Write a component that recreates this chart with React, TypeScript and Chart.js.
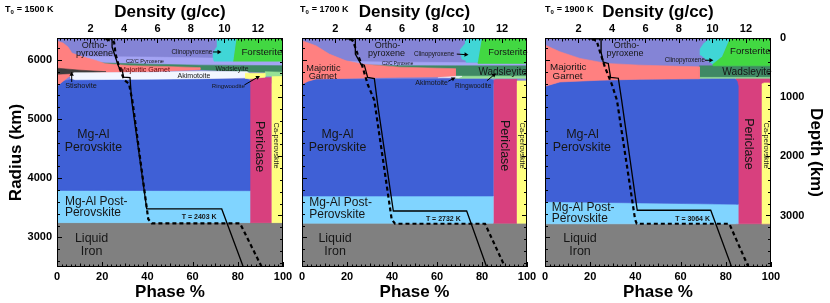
import React, { useEffect, useRef } from "react";
import { Chart, registerables } from "chart.js";
Chart.register(...registerables);

type Pt = [number, number];

const FONT = "'Liberation Sans', Arial, Helvetica, sans-serif";

// ---- axes ----
const PHASE_TICKS = [0, 20, 40, 60, 80, 100];
const DENSITY_TICKS = [2, 4, 6, 8, 10, 12];
const RADIUS_TICKS = [3000, 4000, 5000, 6000];
const DEPTH_TICKS = [0, 1000, 2000, 3000];
const RADIUS_MIN = 2500;
const RADIUS_MAX = 6371;
const DENSITY_MAX = 13.5;
const T0_VALUES = ["1500", "1700", "1900"];

// ---- colours ----
const C_ORTHO = "#8484d6";
const C_C2C = "#a4a4f4";
const C_CLINO = "#40d6d6";
const C_FORST = "#42d842";
const C_GARNET = "#ff8080";
const C_WADS = "#3f8964";
const C_RING = "#96e296";
const C_AKI = "#f2f6ff";
const C_STISH = "#3c3c3c";
const C_PV = "#3f60d6";
const C_PPV = "#80d4ff";
const C_PERI = "#d8407e";
const C_CAPV = "#ffff80";
const C_IRON = "#808080";

// ---- panel 1 (T0 = 1500 K): phase outlines [phase %, radius km] ----
const p1Ortho: Pt[] = [[0, 5600], [0, 6371], [100, 6371], [100, 5600]];
const p1Iron: Pt[] = [[0, 2500], [100, 2500], [100, 3250], [0, 3250]];
const p1Periclase: Pt[] = [[85.4, 3250], [95, 3250], [95, 5700], [87.5, 5700], [85.4, 5660]];
const p1CaPv: Pt[] = [[95, 3250], [100, 3250], [100, 5730], [95, 5730]];
const p1PostPv: Pt[] = [[0, 3250], [85.4, 3250], [85.4, 3790], [0, 3800]];
const p1Pv: Pt[] = [[0, 3795], [85.4, 3790], [85.4, 5650], [84, 5680], [6.6, 5674], [2.7, 5640], [0, 5555]];
const p1C2c: Pt[] = [[10.2, 6057], [41.2, 6048], [69.9, 6031], [100, 6014], [100, 5895], [63.3, 5895], [14.6, 5904], [10.2, 5963]];
const p1Wads: Pt[] = [[13.7, 5955], [41.2, 5929], [63.3, 5912], [100, 5904], [100, 5784], [84.1, 5801], [63.3, 5836], [41.2, 5878], [13.7, 5929]];
const p1Ring: Pt[] = [[92, 5802], [100, 5793], [100, 5734], [92, 5725]];
const p1Clino: Pt[] = [[70.7, 6371], [79.5, 6371], [78.0, 5980], [69.5, 5980], [69.0, 6048], [69.2, 6133], [70.7, 6218]];
const p1Forst: Pt[] = [[79.5, 6371], [100, 6371], [100, 5980], [78.0, 5980]];
const p1Garnet: Pt[] = [[0, 6320], [2.7, 6286], [4.9, 6218], [6.6, 6116], [10.2, 6065], [16.8, 5997], [21.2, 5938], [32.3, 5904], [50, 5887], [63.3, 5870], [63.3, 5836], [41.2, 5802], [19.0, 5785], [8.0, 5768], [4.9, 5708], [2.7, 5640], [0, 5555]];
const p1Stish: Pt[] = [[0, 5861], [10.2, 5827], [21.7, 5802], [10.2, 5776], [0, 5759]];
const p1Aki: Pt[] = [[5.8, 5742], [7.5, 5785], [19.0, 5785], [41.2, 5793], [63.3, 5810], [84.1, 5802], [85.4, 5759], [84.1, 5700], [63.3, 5683], [41.2, 5674], [8.0, 5666], [5.8, 5691]];
const p1CaPvTop: Pt[] = [[83.2, 5776], [92, 5776], [92, 5708], [85.4, 5683], [83.2, 5691]];
// density profiles [density g/cc, radius km]
const p1Solid: Pt[] = [[2.79, 6355], [3.29, 6355], [3.29, 6218], [3.69, 5878], [3.88, 5844], [3.98, 5708], [4.36, 5700], [4.46, 5317], [5.36, 3481], [9.84, 3481], [11.13, 2500]];
const p1Dashed: Pt[] = [[2.93, 6355], [3.41, 6300], [3.50, 6099], [3.72, 5870], [4.02, 5660], [4.30, 5600], [4.50, 5317], [5.45, 3311], [5.66, 3238], [10.93, 3238], [12.23, 2500]];

// ---- panel 2 (T0 = 1700 K) ----
const p2Ortho: Pt[] = [[0, 5600], [0, 6371], [100, 6371], [100, 5600]];
const p2Iron: Pt[] = [[0, 2500], [100, 2500], [100, 3240], [0, 3240]];
const p2Periclase: Pt[] = [[85, 3240], [95.5, 3240], [95.5, 5674], [86.3, 5674], [85, 5650]];
const p2CaPv: Pt[] = [[95.5, 3240], [100, 3240], [100, 5645], [95.5, 5645]];
const p2PostPv: Pt[] = [[0, 3240], [85, 3240], [85, 3700], [0, 3705]];
const p2Pv: Pt[] = [[0, 3700], [85, 3700], [85, 5655], [83.5, 5679], [6.2, 5674], [2.0, 5630], [0, 5589]];
const p2C2c: Pt[] = [[10.7, 5980], [43.6, 5963], [70.2, 5955], [100, 5946], [100, 5887], [43.6, 5895], [12.4, 5912]];
const p2Wads: Pt[] = [[16.9, 5921], [43.6, 5904], [68.2, 5900], [100, 5900], [100, 5725], [68.2, 5725], [68.2, 5852], [43.6, 5870], [16.9, 5895]];
const p2Ring: Pt[] = [[68.2, 5725], [100, 5725], [100, 5691], [68.2, 5691]];
const p2Clino: Pt[] = [[72.4, 6371], [80, 6371], [78.2, 5960], [72.9, 5960], [72.9, 5990], [71.1, 6014], [70.2, 6167], [72.4, 6269]];
const p2Forst: Pt[] = [[80, 6371], [100, 6371], [100, 5941], [78.2, 5941], [78.2, 5960]];
const p2Garnet: Pt[] = [[0, 6325], [6.2, 6240], [12.1, 6099], [19.6, 5985], [27.0, 5929], [43.6, 5878], [68.2, 5852], [68.2, 5717], [43.6, 5708], [6.2, 5679], [2.7, 5640], [0, 5589]];
const p2Aki: Pt[] = [[60.4, 5700], [68.2, 5722], [71.1, 5722], [69.3, 5697]];
const p2Solid: Pt[] = [[2.64, 6355], [3.20, 6355], [3.20, 6099], [3.54, 5929], [3.74, 5912], [3.94, 5703], [4.34, 5686], [4.54, 5249], [5.48, 3447], [9.88, 3447], [11.08, 2500]];
const p2Dashed: Pt[] = [[2.88, 6355], [3.06, 6320], [3.34, 6099], [3.64, 5878], [3.94, 5589], [4.34, 5317], [5.38, 3306], [5.58, 3231], [10.98, 3231], [12.18, 2500]];

// ---- panel 3 (T0 = 1900 K) ----
const p3Ortho: Pt[] = [[0, 5600], [0, 6371], [100, 6371], [100, 5600]];
const p3Iron: Pt[] = [[0, 2500], [100, 2500], [100, 3230], [0, 3230]];
const p3Periclase: Pt[] = [[84.5, 3230], [100, 3230], [100, 5691], [84.5, 5691]];
const p3CaPv: Pt[] = [[95.9, 3230], [100, 3230], [100, 5600], [99, 5612], [97, 5612], [95.9, 5595]];
const p3PostPv: Pt[] = [[0, 3230], [85.5, 3230], [85.5, 3560], [0, 3605]];
const p3Pv: Pt[] = [[0, 3605], [85.5, 3560], [85.5, 5560], [85.0, 5640], [84.0, 5683], [68.6, 5674], [24.3, 5657], [6.6, 5628], [0, 5555]];
const p3Wads: Pt[] = [[68.3, 5900], [100, 5900], [100, 5703], [68.3, 5703]];
const p3Ring: Pt[] = [[68.3, 5705], [100, 5705], [100, 5690], [68.3, 5692]];
const p3Clino: Pt[] = [[73.0, 6371], [81.9, 6371], [78.3, 6048], [74.3, 5929], [71.7, 5997], [69.0, 6082], [68.6, 6184], [70.4, 6286]];
const p3Forst: Pt[] = [[81.9, 6371], [100, 6371], [100, 5900], [74.3, 5900], [74.3, 5929], [78.3, 6048]];
const p3Garnet: Pt[] = [[0, 6252], [6.6, 6138], [15.5, 6026], [27.3, 5941], [42.0, 5912], [68.3, 5883], [68.3, 5683], [42.0, 5674], [24.3, 5657], [6.6, 5628], [0, 5555]];
const p3Solid: Pt[] = [[2.57, 6355], [3.35, 6355], [3.35, 6133], [3.48, 5963], [3.78, 5941], [3.92, 5703], [4.38, 5691], [4.58, 5317], [5.51, 3459], [9.90, 3459], [11.15, 2500]];
const p3Dashed: Pt[] = [[2.81, 6355], [3.09, 6320], [3.29, 6133], [3.58, 5878], [3.99, 5589], [4.30, 5317], [5.38, 3306], [5.48, 3231], [11.01, 3231], [12.15, 2500]];

// ---- text annotations (phase %, radius km) ----
type Lab = { t: string; p: number; r: number; s: number; a?: CanvasTextAlign; c?: string; rot?: boolean; b?: boolean };
const P1_LABELS: Lab[] = [
  { t: "Ortho-", p: 16.6, r: 6252, s: 9 },
  { t: "pyroxene", p: 16.6, r: 6116, s: 9 },
  { t: "C2/C Pyroxene", p: 38.9, r: 5980, s: 5.6 },
  { t: "Clinopyroxene", p: 59.7, r: 6135, s: 6.4 },
  { t: "Forsterite", p: 81.6, r: 6125, s: 9.7, a: "left" },
  { t: "Majoritic Garnet", p: 38.9, r: 5827, s: 7.1, c: "#5a0b0b" },
  { t: "Wadsleyite", p: 77.4, r: 5839, s: 6.8 },
  { t: "Akimotoite", p: 60.6, r: 5725, s: 7 },
  { t: "Ringwoodite", p: 75.8, r: 5560, s: 6 },
  { t: "Stishovite", p: 10.6, r: 5555, s: 7.3 },
  { t: "Mg-Al", p: 16.1, r: 4739, s: 12.3 },
  { t: "Perovskite", p: 16.1, r: 4518, s: 12.3 },
  { t: "Mg-Al Post-", p: 3.5, r: 3608, s: 12, a: "left" },
  { t: "Perovskite", p: 3.5, r: 3413, s: 12, a: "left" },
  { t: "Liquid", p: 15.3, r: 2988, s: 12.5 },
  { t: "Iron", p: 15.3, r: 2767, s: 12.5 },
  { t: "Periclase", p: 89.4, r: 4535, s: 12.5, rot: true },
  { t: "Ca-perovskite", p: 96.8, r: 4552, s: 7.5, rot: true },
  { t: "T = 2403 K", p: 62.9, r: 3340, s: 7, b: true },
];
const P2_LABELS: Lab[] = [
  { t: "Ortho-", p: 38.0, r: 6252, s: 9 },
  { t: "pyroxene", p: 37.6, r: 6116, s: 9 },
  { t: "C2/C Pyroxene", p: 42.5, r: 5941, s: 4.6 },
  { t: "Clinopyroxene", p: 58.7, r: 6094, s: 6.3 },
  { t: "Forsterite", p: 82.8, r: 6133, s: 9.3, a: "left" },
  { t: "Majoritic", p: 9.5, r: 5861, s: 9.2 },
  { t: "Garnet", p: 9.2, r: 5717, s: 9.2 },
  { t: "Wadsleyite", p: 89.2, r: 5793, s: 10 },
  { t: "Akimotoite", p: 57.6, r: 5614, s: 7 },
  { t: "Ringwoodite", p: 76.1, r: 5563, s: 6.6 },
  { t: "Mg-Al", p: 15.8, r: 4739, s: 12.3 },
  { t: "Perovskite", p: 15.8, r: 4518, s: 12.3 },
  { t: "Mg-Al Post-", p: 3.2, r: 3592, s: 12, a: "left" },
  { t: "Perovskite", p: 3.2, r: 3379, s: 12, a: "left" },
  { t: "Liquid", p: 14.7, r: 2988, s: 12.5 },
  { t: "Iron", p: 14.7, r: 2767, s: 12.5 },
  { t: "Periclase", p: 90.2, r: 4552, s: 12.5, rot: true },
  { t: "Ca-perovskite", p: 97.9, r: 4552, s: 7.5, rot: true },
  { t: "T = 2732 K", p: 62.8, r: 3315, s: 7, b: true },
];
const P3_LABELS: Lab[] = [
  { t: "Ortho-", p: 36.1, r: 6252, s: 9 },
  { t: "pyroxene", p: 35.4, r: 6116, s: 9 },
  { t: "Clinopyroxene", p: 61.9, r: 5995, s: 6.3 },
  { t: "Forsterite", p: 81.9, r: 6138, s: 9.6, a: "left" },
  { t: "Majoritic", p: 10.3, r: 5878, s: 9.8 },
  { t: "Garnet", p: 10.0, r: 5717, s: 9.8 },
  { t: "Wadsleyite", p: 89.4, r: 5793, s: 10.2 },
  { t: "Mg-Al", p: 16.6, r: 4739, s: 12.5 },
  { t: "Perovskite", p: 16.3, r: 4518, s: 12.5 },
  { t: "Mg-Al Post-", p: 3.0, r: 3498, s: 12, a: "left" },
  { t: "Perovskite", p: 3.0, r: 3320, s: 12, a: "left" },
  { t: "Liquid", p: 15.5, r: 2988, s: 12.5 },
  { t: "Iron", p: 15.5, r: 2767, s: 12.5 },
  { t: "Periclase", p: 89.9, r: 4581, s: 12.5, rot: true },
  { t: "Ca-perovskite", p: 97.9, r: 4552, s: 7.5, rot: true },
  { t: "T = 3064 K", p: 65.3, r: 3311, s: 7, b: true },
];
// arrows [fromPhase, fromRadius, toPhase, toRadius]
const P1_ARROWS: number[][] = [[69.0, 6135, 72.8, 6135], [6.5, 5628, 6.5, 5800], [82.9, 5577, 89.8, 5730]];
const P2_ARROWS: number[][] = [[68.8, 6099, 74.0, 6087], [65.0, 5640, 68.2, 5703], [82.2, 5648, 86.2, 5775]];
const P3_ARROWS: number[][] = [[70.8, 5995, 74.5, 5995]];

type Panel = {
  left: number; right: number; wl: number; wr: number; t0dx: number; t0: string;
  showLeft: boolean; showRight: boolean;
  layers: [Pt[], string][]; solid: Pt[]; dashed: Pt[]; labels: Lab[]; arrows: number[][];
};

const PANELS: Panel[] = [
  {
    left: 57, right: 283, wl: 57, wr: 30, t0dx: -52, t0: T0_VALUES[0], showLeft: true, showRight: false,
    layers: [
      [p1Ortho, C_ORTHO], [p1Iron, C_IRON], [p1Periclase, C_PERI], [p1CaPv, C_CAPV], [p1PostPv, C_PPV], [p1Pv, C_PV],
      [p1C2c, C_C2C], [p1Wads, C_WADS], [p1Ring, C_RING], [p1Clino, C_CLINO], [p1Forst, C_FORST],
      [p1Garnet, C_GARNET], [p1Stish, C_STISH], [p1Aki, C_AKI], [p1CaPvTop, C_CAPV],
    ],
    solid: p1Solid, dashed: p1Dashed, labels: P1_LABELS, arrows: P1_ARROWS,
  },
  {
    left: 302, right: 527, wl: 30, wr: 30, t0dx: -2, t0: T0_VALUES[1], showLeft: false, showRight: false,
    layers: [
      [p2Ortho, C_ORTHO], [p2Iron, C_IRON], [p2Periclase, C_PERI], [p2CaPv, C_CAPV], [p2PostPv, C_PPV], [p2Pv, C_PV],
      [p2C2c, C_C2C], [p2Wads, C_WADS], [p2Ring, C_RING], [p2Clino, C_CLINO], [p2Forst, C_FORST],
      [p2Garnet, C_GARNET], [p2Aki, C_AKI],
    ],
    solid: p2Solid, dashed: p2Dashed, labels: P2_LABELS, arrows: P2_ARROWS,
  },
  {
    left: 545, right: 771, wl: 30, wr: 59, t0dx: 0, t0: T0_VALUES[2], showLeft: false, showRight: true,
    layers: [
      [p3Ortho, C_ORTHO], [p3Iron, C_IRON], [p3Periclase, C_PERI], [p3CaPv, C_CAPV], [p3PostPv, C_PPV], [p3Pv, C_PV],
      [p3Wads, C_WADS], [p3Ring, C_RING], [p3Clino, C_CLINO], [p3Forst, C_FORST], [p3Garnet, C_GARNET],
    ],
    solid: p3Solid, dashed: p3Dashed, labels: P3_LABELS, arrows: P3_ARROWS,
  },
];

const tickFont = { family: FONT, size: 11, weight: "bold" as const };
const titleFont = { family: FONT, size: 17, weight: "bold" as const };

function makeDecor(pn: Panel) {
  return {
    id: "decor",
    afterDatasetsDraw(chart: any) {
      const ctx: CanvasRenderingContext2D = chart.ctx;
      const a = chart.chartArea;
      const sx = chart.scales.x, sy = chart.scales.y, sxd = chart.scales.xd, syd = chart.scales.yd;
      ctx.save();
      // region labels
      for (const l of pn.labels) {
        const px = sx.getPixelForValue(l.p);
        const py = sy.getPixelForValue(l.r);
        ctx.font = `${l.b ? "bold " : ""}${l.s}px ${FONT}`;
        ctx.fillStyle = l.c || "#161616";
        ctx.textAlign = l.a || "center";
        ctx.textBaseline = "middle";
        if (l.rot) {
          ctx.save();
          ctx.translate(px, py);
          ctx.rotate(Math.PI / 2);
          ctx.fillText(l.t, 0, 0);
          ctx.restore();
        } else {
          ctx.fillText(l.t, px, py);
        }
      }
      // arrows
      ctx.strokeStyle = "#000";
      ctx.fillStyle = "#000";
      ctx.lineWidth = 1;
      for (const [p0, r0, p1, r1] of pn.arrows) {
        const x0 = sx.getPixelForValue(p0), y0 = sy.getPixelForValue(r0);
        const x1 = sx.getPixelForValue(p1), y1 = sy.getPixelForValue(r1);
        const ang = Math.atan2(y1 - y0, x1 - x0);
        const hl = 4, hw = 2.2;
        ctx.beginPath();
        ctx.moveTo(x0, y0);
        ctx.lineTo(x1 - Math.cos(ang) * hl * 0.8, y1 - Math.sin(ang) * hl * 0.8);
        ctx.stroke();
        ctx.beginPath();
        ctx.moveTo(x1, y1);
        ctx.lineTo(x1 - Math.cos(ang) * hl - Math.sin(ang) * hw, y1 - Math.sin(ang) * hl + Math.cos(ang) * hw);
        ctx.lineTo(x1 - Math.cos(ang) * hl + Math.sin(ang) * hw, y1 - Math.sin(ang) * hl - Math.cos(ang) * hw);
        ctx.closePath();
        ctx.fill();
      }
      // inward tick marks and frame
      ctx.beginPath();
      for (let v = 0; v <= 100; v += 2) {
        const px = Math.round(sx.getPixelForValue(v)) + 0.5;
        const len = v % 20 === 0 ? 5 : v % 10 === 0 ? 3.5 : 2.5;
        ctx.moveTo(px, a.bottom);
        ctx.lineTo(px, a.bottom - len);
      }
      for (let i = 0; i * 0.2 <= DENSITY_MAX; i++) {
        const px = Math.round(sxd.getPixelForValue(i * 0.2)) + 0.5;
        const len = i % 10 === 0 ? 5 : i % 5 === 0 ? 3.5 : 2.5;
        ctx.moveTo(px, a.top);
        ctx.lineTo(px, a.top + len);
      }
      for (let v = 2600; v <= RADIUS_MAX; v += 200) {
        const py = Math.round(sy.getPixelForValue(v)) + 0.5;
        const len = v % 1000 === 0 ? 5 : 3;
        ctx.moveTo(a.left, py);
        ctx.lineTo(a.left + len, py);
      }
      for (let v = 0; v <= RADIUS_MAX - RADIUS_MIN; v += 200) {
        const py = Math.round(syd.getPixelForValue(v)) + 0.5;
        const len = v % 1000 === 0 ? 5 : 3;
        ctx.moveTo(a.right, py);
        ctx.lineTo(a.right - len, py);
      }
      ctx.stroke();
      ctx.strokeRect(a.left + 0.5, a.top + 0.5, a.right - a.left - 1, a.bottom - a.top - 1);
      ctx.restore();
    },
    afterDraw(chart: any) {
      const ctx: CanvasRenderingContext2D = chart.ctx;
      const x0 = chart.chartArea.left + pn.t0dx;
      const yb = 12;
      ctx.save();
      ctx.fillStyle = "#000";
      ctx.textAlign = "left";
      ctx.textBaseline = "alphabetic";
      ctx.font = `bold 9px ${FONT}`;
      ctx.fillText("T", x0, yb);
      const w1 = ctx.measureText("T").width;
      ctx.font = `bold 6px ${FONT}`;
      ctx.fillText("0", x0 + w1, yb + 2);
      const w2 = ctx.measureText("0").width;
      ctx.font = `bold 9px ${FONT}`;
      ctx.fillText(` = ${pn.t0} K`, x0 + w1 + w2 + 0.5, yb);
      ctx.restore();
    },
  };
}

function buildConfig(pn: Panel): any {
  const n = pn.layers.length;
  const shapes = pn.layers.map(([pts, color], i) => ({
    data: pts.map(([x, y]) => ({ x, y })),
    showLine: true,
    fill: "shape",
    backgroundColor: color,
    borderColor: color,
    borderWidth: 0.6,
    pointRadius: 0,
    pointHoverRadius: 0,
    tension: 0,
    xAxisID: "x",
    yAxisID: "y",
    order: n - i + 5,
  }));
  const lines = [
    { pts: pn.dashed, dash: [4, 3], w: 2.2 },
    { pts: pn.solid, dash: [], w: 1.3 },
  ].map((d, i) => ({
    data: d.pts.map(([x, y]) => ({ x, y })),
    showLine: true,
    fill: false,
    borderColor: "#000",
    backgroundColor: "#000",
    borderWidth: d.w,
    borderDash: d.dash,
    pointRadius: 0,
    pointHoverRadius: 0,
    tension: 0,
    xAxisID: "xd",
    yAxisID: "y",
    order: i,
  }));
  const noGrid = { display: false, drawTicks: false };
  const noBorder = { display: false };
  return {
    type: "scatter",
    data: { datasets: [...shapes, ...lines] },
    plugins: [makeDecor(pn)],
    options: {
      responsive: false,
      animation: false,
      devicePixelRatio: 1,
      events: [],
      layout: { padding: { left: pn.left - pn.wl, right: 830 - pn.right - pn.wr, top: 0, bottom: 0 } },
      plugins: { legend: { display: false }, tooltip: { enabled: false } },
      scales: {
        x: {
          type: "linear", position: "bottom", min: 0, max: 100,
          afterBuildTicks: (s: any) => { s.ticks = PHASE_TICKS.map((v) => ({ value: v })); },
          ticks: { color: "#000", font: tickFont, padding: 3, maxRotation: 0, autoSkip: false, callback: (v: any) => String(v) },
          grid: noGrid, border: noBorder,
          title: { display: true, text: "Phase %", color: "#000", font: titleFont, padding: { top: 0, bottom: 0 } },
          afterFit: (s: any) => { s.height = 36; },
        },
        xd: {
          type: "linear", position: "top", min: 0, max: DENSITY_MAX,
          afterBuildTicks: (s: any) => { s.ticks = DENSITY_TICKS.map((v) => ({ value: v })); },
          ticks: { color: "#000", font: tickFont, padding: 2, maxRotation: 0, autoSkip: false, callback: (v: any) => String(v) },
          grid: noGrid, border: noBorder,
          title: { display: true, text: "Density (g/cc)", color: "#000", font: titleFont, padding: { top: 2, bottom: 0 } },
          afterFit: (s: any) => { s.height = 38; },
        },
        y: {
          type: "linear", position: "left", min: RADIUS_MIN, max: RADIUS_MAX,
          afterBuildTicks: (s: any) => { s.ticks = RADIUS_TICKS.map((v) => ({ value: v })); },
          ticks: { display: pn.showLeft, color: "#000", font: tickFont, padding: 5, autoSkip: false, callback: (v: any) => String(v) },
          grid: noGrid, border: noBorder,
          title: { display: pn.showLeft, text: "Radius (km)", color: "#000", font: titleFont, padding: { top: 6, bottom: 0 } },
          afterFit: (s: any) => { s.width = pn.wl; },
        },
        yd: {
          type: "linear", position: "right", min: 0, max: RADIUS_MAX - RADIUS_MIN, reverse: true,
          afterBuildTicks: (s: any) => { s.ticks = DEPTH_TICKS.map((v) => ({ value: v })); },
          ticks: { display: pn.showRight, color: "#000", font: tickFont, padding: 9, autoSkip: false, callback: (v: any) => String(v) },
          grid: noGrid, border: noBorder,
          title: { display: pn.showRight, text: "Depth (km)", color: "#000", font: titleFont, padding: { top: 4, bottom: 0 } },
          afterFit: (s: any) => { s.width = pn.wr; },
        },
      },
    },
  };
}

export default function App() {
  const refs = useRef<(HTMLCanvasElement | null)[]>([]);
  useEffect(() => {
    Chart.defaults.font.family = FONT;
    const charts = PANELS.map((pn, i) => new Chart(refs.current[i] as HTMLCanvasElement, buildConfig(pn)));
    return () => charts.forEach((c) => c.destroy());
  }, []);
  return (
    <div style={{ position: "absolute", left: 0, top: 0, width: 830, height: 303, background: "#fff" }}>
      {PANELS.map((_, i) => (
        <canvas
          key={i}
          ref={(el) => { refs.current[i] = el; }}
          width={830}
          height={303}
          style={{ position: "absolute", left: 0, top: 0 }}
        />
      ))}
    </div>
  );
}
